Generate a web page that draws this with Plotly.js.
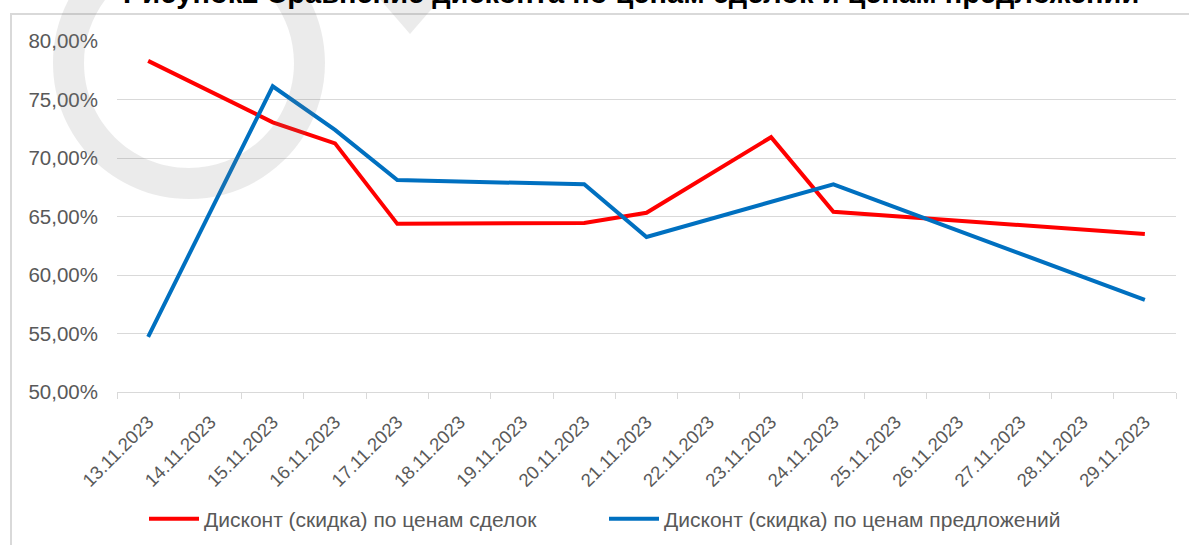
<!DOCTYPE html>
<html>
<head>
<meta charset="utf-8">
<script src="https://cdn.plot.ly/plotly-3.0.1.min.js"></script>
<style>html,body{margin:0;padding:0;background:#fff;}#chart{width:1189px;height:545px;}</style>
</head>
<body>
<div id="chart"></div>
<script>
// ---- data ----
const dates = ["13.11.2023","14.11.2023","15.11.2023","16.11.2023","17.11.2023","18.11.2023","19.11.2023","20.11.2023","21.11.2023","22.11.2023","23.11.2023","24.11.2023","25.11.2023","26.11.2023","27.11.2023","28.11.2023","29.11.2023"];
const dealDiscount  = [0.7830, null, 0.7305, 0.7125, 0.6437, null, null, 0.6445, 0.6532, null, 0.7178, 0.6541, null, null, null, null, 0.6350];
const offerDiscount = [0.5472, null, 0.7613, 0.7240, 0.6811, null, null, 0.6775, 0.6325, null, null, 0.6775, null, null, null, null, 0.5788];
const seriesNames = ["Дисконт (скидка) по ценам сделок", "Дисконт (скидка) по ценам предложений"];
const titleText = "Рисунок2 Сравнение дисконта по ценам сделок и ценам предложений";

// ---- geometry helpers for decorations (pixel -> paper) ----
const L = 117, R = 13, T = 41, B = 153, W = 1189, H = 545;
const PW = W - L - R, PH = H - T - B;
const px = x => (x - L) / PW;
const py = y => (H - B - y) / PH;
function ring(cx, cy, Ro, Ri) {
  const k = 0.5523;
  const P = (x, y) => px(x).toFixed(5) + "," + py(y).toFixed(5);
  let s = "M" + P(cx, cy - Ro);
  s += " C" + P(cx + k*Ro, cy - Ro) + " " + P(cx + Ro, cy - k*Ro) + " " + P(cx + Ro, cy);
  s += " C" + P(cx + Ro, cy + k*Ro) + " " + P(cx + k*Ro, cy + Ro) + " " + P(cx, cy + Ro);
  s += " C" + P(cx - k*Ro, cy + Ro) + " " + P(cx - Ro, cy + k*Ro) + " " + P(cx - Ro, cy);
  s += " C" + P(cx - Ro, cy - k*Ro) + " " + P(cx - k*Ro, cy - Ro) + " " + P(cx, cy - Ro) + " Z";
  s += " M" + P(cx, cy - Ri);
  s += " C" + P(cx - k*Ri, cy - Ri) + " " + P(cx - Ri, cy - k*Ri) + " " + P(cx - Ri, cy);
  s += " C" + P(cx - Ri, cy + k*Ri) + " " + P(cx - k*Ri, cy + Ri) + " " + P(cx, cy + Ri);
  s += " C" + P(cx + k*Ri, cy + Ri) + " " + P(cx + Ri, cy + k*Ri) + " " + P(cx + Ri, cy);
  s += " C" + P(cx + Ri, cy - k*Ri) + " " + P(cx + k*Ri, cy - Ri) + " " + P(cx, cy - Ri) + " Z";
  return s;
}
const tri = "M" + px(372) + "," + py(-10) + " L" + px(448) + "," + py(-10) + " L" + px(410) + "," + py(34) + " Z";

const font = "'Liberation Sans', Arial, sans-serif";
const grey = "#595959";

const traces = [
  {x: dates, y: dealDiscount, name: seriesNames[0], type: "scatter", mode: "lines",
   connectgaps: true, line: {color: "#ff0000", width: 4}},
  {x: dates, y: offerDiscount, name: seriesNames[1], type: "scatter", mode: "lines",
   connectgaps: true, line: {color: "#0070c0", width: 4}}
];

const layout = {
  width: W, height: H,
  margin: {l: L, r: R, t: T, b: B, autoexpand: false},
  paper_bgcolor: "#ffffff", plot_bgcolor: "rgba(0,0,0,0)",
  separators: ", ",
  showlegend: true,
  legend: {orientation: "h", x: px(604), xanchor: "center", y: py(519), yanchor: "middle",
           font: {family: font, size: 21, color: grey}, itemwidth: 50, entrywidth: 395,
           bgcolor: "rgba(0,0,0,0)"},
  xaxis: {type: "category", categoryorder: "array", categoryarray: dates,
          range: [-0.5, dates.length - 0.5],
          showgrid: false, zeroline: false, showline: true, linecolor: "#d9d9d9", linewidth: 1,
          ticks: "outside", tickson: "boundaries", ticklen: 6, tickcolor: "#d9d9d9", tickwidth: 1,
          tickangle: -45, tickfont: {family: font, size: 18.5, color: grey}, ticklabelstandoff: 11},
  yaxis: {range: [0.5, 0.8], dtick: 0.05, tick0: 0.5, tickformat: ".2%",
          showgrid: true, gridcolor: "#d9d9d9", gridwidth: 1, zeroline: false, showline: false,
          ticks: "", tickfont: {family: font, size: 20.5, color: grey}, ticklabelstandoff: 18},
  annotations: [{text: "<b>" + titleText + "</b>", xref: "paper", yref: "paper",
                 x: px(631), y: py(11), xanchor: "center", yanchor: "bottom", showarrow: false,
                 font: {family: font, size: 29, color: "#000000"}}],
  shapes: [
    {type: "path", xref: "paper", yref: "paper", path: ring(189, 63, 136, 105),
     fillcolor: "rgba(120,120,120,0.15)", line: {width: 0}, layer: "above"},
    {type: "path", xref: "paper", yref: "paper", path: tri,
     fillcolor: "rgba(120,120,120,0.15)", line: {width: 0}, layer: "above"},
    {type: "rect", xref: "paper", yref: "paper", x0: px(11), x1: px(1200), y0: py(14), y1: py(560),
     line: {color: "#d9d9d9", width: 2}, fillcolor: "rgba(0,0,0,0)", layer: "below"}
  ]
};

Plotly.newPlot("chart", traces, layout, {displayModeBar: false, staticPlot: true});
</script>
</body>
</html>
